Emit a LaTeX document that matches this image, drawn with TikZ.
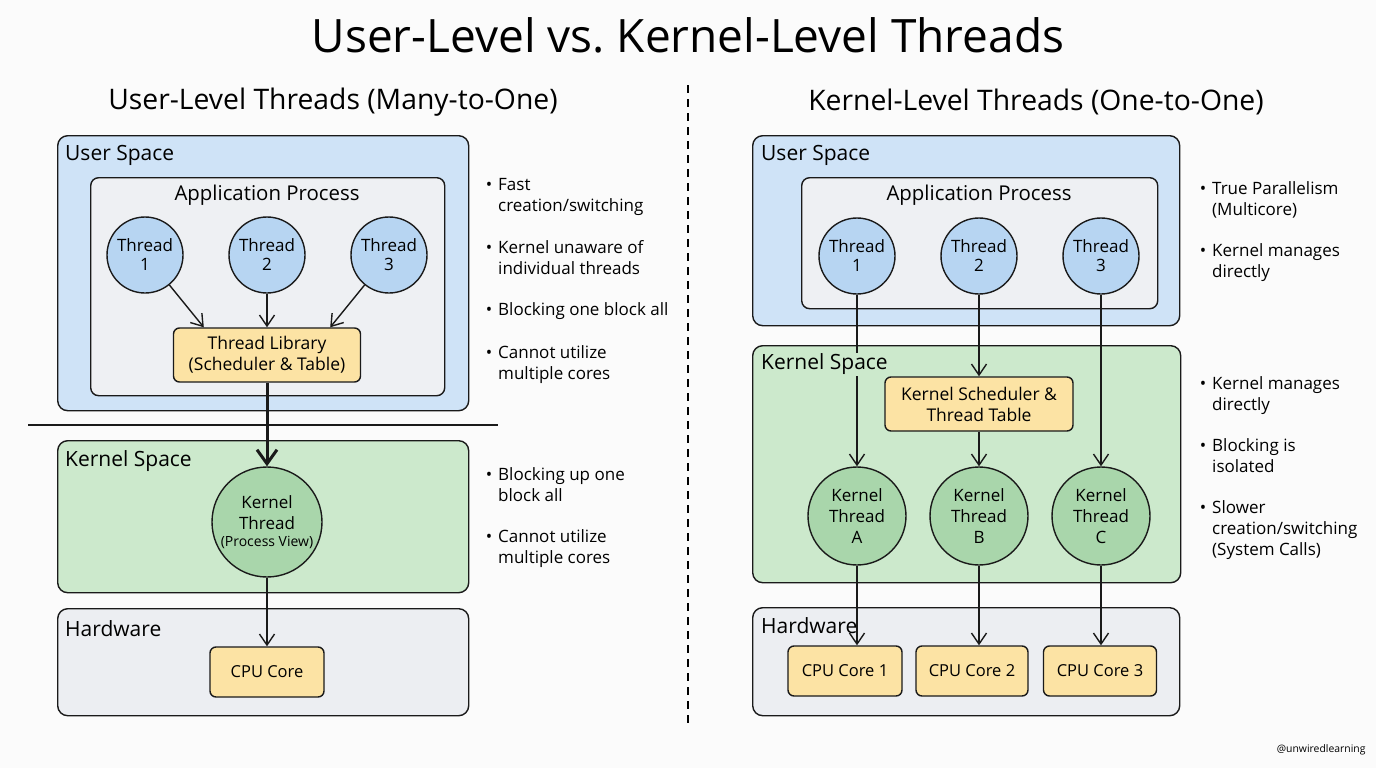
\documentclass[tikz,border=0pt]{standalone}
\usepackage{fontspec}
\setmainfont{Open Sans}
\usetikzlibrary{arrows.meta}

\definecolor{bgpaper}{HTML}{FBFBFB}
\definecolor{userblue}{HTML}{CFE3F7}
\definecolor{threadblue}{HTML}{B7D5F2}
\definecolor{procgray}{HTML}{EEF0F3}
\definecolor{kernelgreen}{HTML}{CCE9CC}
\definecolor{kthreadgreen}{HTML}{A9D6AB}
\definecolor{hwgray}{HTML}{ECEEF2}
\definecolor{coreyellow}{HTML}{FCE3A4}
\definecolor{inkblack}{HTML}{1A1A1A}

\newcommand{\bmark}{\llap{\textbullet\hspace{6pt}}}

\tikzset{
  area/.style={draw=inkblack, line width=1.4pt, rounded corners=10pt, anchor=north west, inner sep=0pt},
  arealabel/.style={anchor=west, inner sep=1pt, font=\fontsize{21}{25}\selectfont},
  uthread/.style={circle, draw=inkblack, line width=1.4pt, fill=threadblue, minimum size=76pt, inner sep=0pt, align=center, font=\fontsize{17}{19}\selectfont},
  kthread/.style={circle, draw=inkblack, line width=1.4pt, fill=kthreadgreen, inner sep=0pt, align=center, font=\fontsize{17}{21}\selectfont},
  corebox/.style={draw=inkblack, line width=1.4pt, fill=coreyellow, rounded corners=6pt, inner sep=0pt, align=center, font=\fontsize{17.5}{21}\selectfont},
  bullettext/.style={anchor=north west, inner sep=0pt, align=left, font=\fontsize{17}{21}\selectfont},
  flow/.style={->, draw=inkblack, line width=1.4pt},
}

\begin{document}
\begin{tikzpicture}[x=1pt, y=-1pt, >={Straight Barb[length=11pt,width=15pt]}]

\fill[bgpaper] (0,0) rectangle (1376,768);
\useasboundingbox (0,0) rectangle (1376,768);

% headings
\node[font=\fontsize{46}{52}\selectfont] (title) at (688,35) {User-Level vs.\ Kernel-Level Threads};
\node[font=\fontsize{28.3}{32}\selectfont] (subL) at (333,102) {User-Level Threads (Many-to-One)};
\node[font=\fontsize{28.3}{32}\selectfont] (subR) at (1036,102) {Kernel-Level Threads (One-to-One)};

\coordinate (divtop) at (688,85);
\coordinate (divbot) at (688,725);
\draw[line width=1.4pt, dash pattern=on 8pt off 6pt] (divtop) -- (divbot);

% ---- left: many-to-one ----
\node[area, fill=userblue, minimum width=411pt, minimum height=275pt] (userL) at (57,135) {};
\node[area, fill=procgray, rounded corners=8pt, minimum width=354pt, minimum height=218pt] (procL) at (90,177) {};
\node[area, fill=kernelgreen, minimum width=411pt, minimum height=152pt] (kernL) at (57,440) {};
\node[area, fill=hwgray, minimum width=411pt, minimum height=107pt] (hwL) at (57,608) {};

\coordinate (sepA) at (28,425);
\coordinate (sepB) at (498,425);
\draw[line width=1.3pt, inkblack] (sepA) -- (sepB);

\foreach \i/\x in {1/145,2/267,3/389}
  \node[uthread] (tL\i) at (\x,255) {Thread\\\i};

\node[corebox, minimum width=187pt, minimum height=54pt] (libL) at (267,355) {Thread Library\\(Scheduler \& Table)};
\node[kthread, minimum size=110pt] (ktL) at (267,522) {Kernel\\Thread\\[-4pt]{\fontsize{14}{16}\selectfont(Process View)}};
\node[corebox, minimum width=114pt, minimum height=50pt, font=\fontsize{16.5}{20}\selectfont] (cpuL) at (267,672) {CPU Core};

\draw[flow] (tL1) -- ([xshift=31pt]libL.north west);
\draw[flow] (tL2) -- (libL);
\draw[flow] (tL3) -- ([xshift=-31pt]libL.north east);
\draw[flow, line width=3pt, >={Straight Barb[length=14pt,width=20pt]}] (libL) -- (ktL);
\draw[flow] (ktL) -- (cpuL);

\node[arealabel] (userLlbl) at (64,155) {User Space};
\node[font=\fontsize{20.4}{24}\selectfont] (procLlbl) at (267,195) {Application Process};
\node[arealabel] (kernLlbl) at (64,461) {Kernel Space};
\node[arealabel] (hwLlbl) at (64,629) {Hardware};

% notes, left
\node[bullettext] (nL1) at (498,178) {\bmark Fast\\creation/switching};
\node[bullettext] (nL2) at (498,240) {\bmark Kernel unaware of\\individual threads};
\node[bullettext] (nL3) at (498,302) {\bmark Blocking one block all};
\node[bullettext] (nL4) at (498,345) {\bmark Cannot utilize\\multiple cores};
\node[bullettext] (nL5) at (498,467) {\bmark Blocking up one\\block all};
\node[bullettext] (nL6) at (498,529) {\bmark Cannot utilize\\multiple cores};

% ---- right: one-to-one ----
\node[area, fill=userblue, minimum width=427pt, minimum height=190pt] (userR) at (752,135) {};
\node[area, fill=procgray, rounded corners=8pt, minimum width=356pt, minimum height=131pt] (procR) at (801,177) {};
\node[area, fill=kernelgreen, minimum width=428pt, minimum height=237pt] (kernR) at (752,345) {};
\node[area, fill=hwgray, minimum width=427pt, minimum height=108pt] (hwR) at (752,607) {};

\foreach \i/\x in {1/857,2/979,3/1101}
  \node[uthread] (tR\i) at (\x,256) {Thread\\\i};

\node[corebox, minimum width=188pt, minimum height=54pt] (sched) at (979,404) {Kernel Scheduler \&\\Thread Table};

\foreach \k/\x in {A/857,B/979,C/1101}
  \node[kthread, minimum size=98pt] (kR\k) at (\x,516) {Kernel\\Thread\\\k};

\node[corebox, minimum width=114pt, minimum height=50pt, font=\fontsize{16.5}{20}\selectfont] (cpu1) at (845,671) {CPU Core 1};
\node[corebox, minimum width=112pt, minimum height=50pt, font=\fontsize{16.5}{20}\selectfont] (cpu2) at (972,671) {CPU Core 2};
\node[corebox, minimum width=113pt, minimum height=50pt, font=\fontsize{16.5}{20}\selectfont] (cpu3) at (1100,671) {CPU Core 3};

\draw[flow] (tR1) -- (kRA);
\draw[flow] (tR2) -- (sched);
\draw[flow] (sched) -- (kRB);
\draw[flow] (tR3) -- (kRC);
\draw[flow] (kRA) -- (kRA |- cpu1.north);
\draw[flow] (kRB) -- (kRB |- cpu2.north);
\draw[flow] (kRC) -- (kRC |- cpu3.north);

\node[arealabel] (userRlbl) at (760,155) {User Space};
\node[font=\fontsize{20.4}{24}\selectfont] (procRlbl) at (979,195) {Application Process};
\node[arealabel, fill=kernelgreen] (kernRlbl) at (760,364) {Kernel Space};
\node[arealabel] (hwRlbl) at (760,626) {Hardware};

% notes, right
\node[bullettext] (nR1) at (1212,181) {\bmark True Parallelism\\(Multicore)};
\node[bullettext] (nR2) at (1212,243) {\bmark Kernel manages\\directly};
\node[bullettext] (nR3) at (1212,376) {\bmark Kernel manages\\directly};
\node[bullettext] (nR4) at (1212,438) {\bmark Blocking is\\isolated};
\node[bullettext] (nR5) at (1212,500) {\bmark Slower\\creation/switching\\(System Calls)};

\node[anchor=east, font=\fontsize{10.4}{13}\selectfont] (credit) at (1369,750) {@unwiredlearning};

\end{tikzpicture}
\end{document}
